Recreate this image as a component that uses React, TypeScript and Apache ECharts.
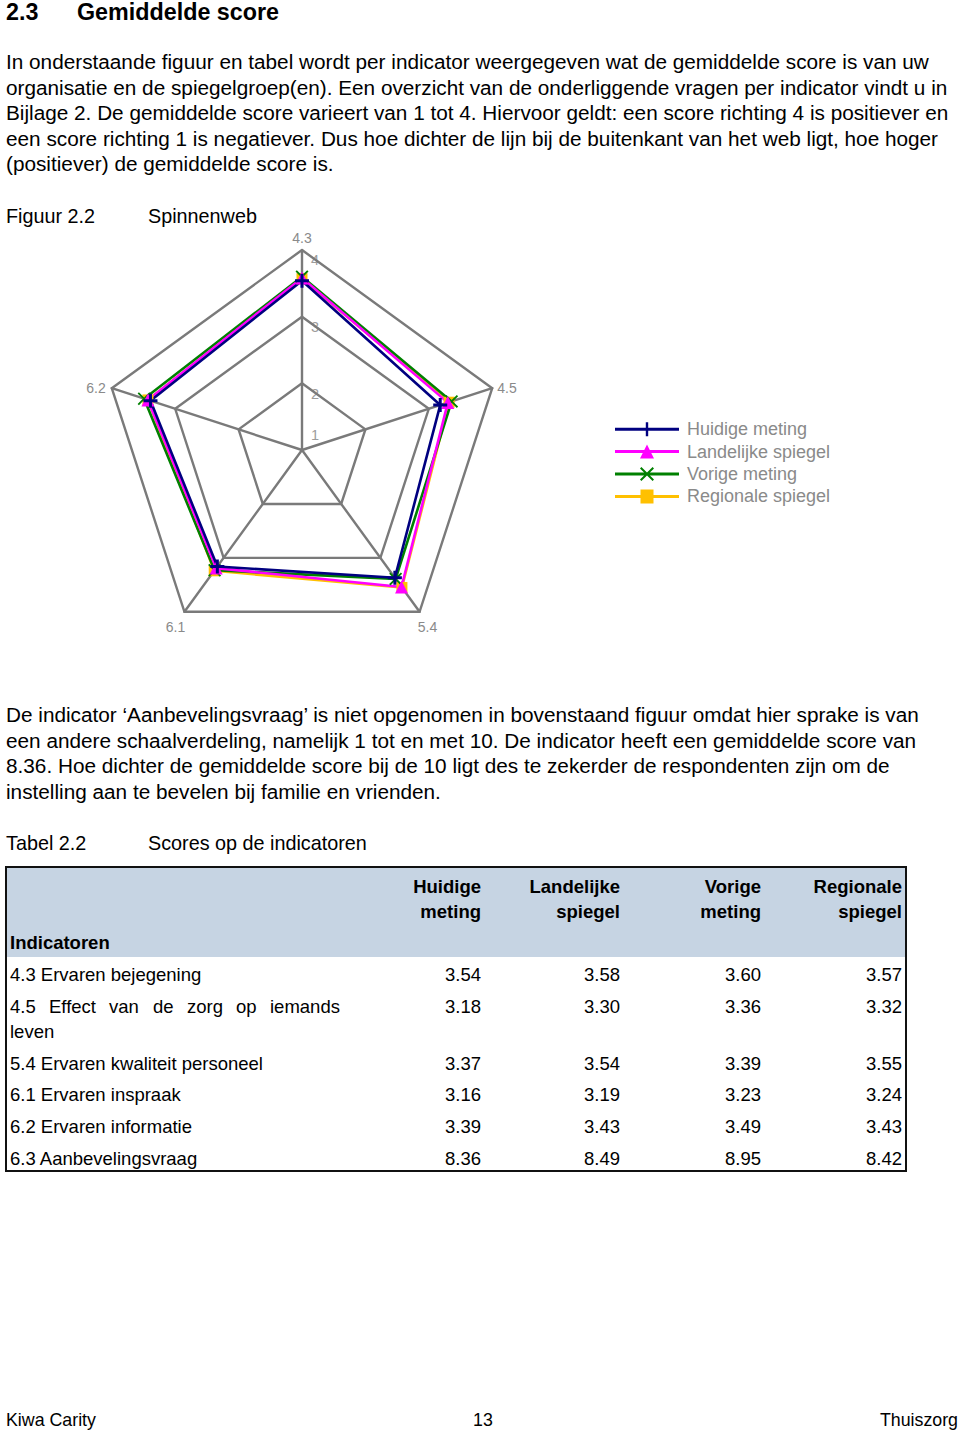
import React, { useEffect, useRef } from "react";
import * as echarts from "echarts";

// ---------- data ----------
const indicatorCodes = ["4.3", "4.5", "5.4", "6.1", "6.2"];
const rowLabels = [
  "4.3 Ervaren bejegening",
  "4.5 Effect van de zorg op iemands leven",
  "5.4 Ervaren kwaliteit personeel",
  "6.1 Ervaren inspraak",
  "6.2 Ervaren informatie",
  "6.3 Aanbevelingsvraag",
];
const huidigeMeting = [3.54, 3.18, 3.37, 3.16, 3.39, 8.36];
const landelijkeSpiegel = [3.58, 3.3, 3.54, 3.19, 3.43, 8.49];
const vorigeMeting = [3.6, 3.36, 3.39, 3.23, 3.49, 8.95];
const regionaleSpiegel = [3.57, 3.32, 3.55, 3.24, 3.43, 8.42];
const seriesNames = ["Huidige meting", "Landelijke spiegel", "Vorige meting", "Regionale spiegel"];
const columnHeaders = [
  ["Huidige", "meting"],
  ["Landelijke", "spiegel"],
  ["Vorige", "meting"],
  ["Regionale", "spiegel"],
];
const axisTicks = [1, 2, 3, 4];

const paragraph1 = [
  "In onderstaande figuur en tabel wordt per indicator weergegeven wat de gemiddelde score is van uw",
  "organisatie en de spiegelgroep(en). Een overzicht van de onderliggende vragen per indicator vindt u in",
  "Bijlage 2. De gemiddelde score varieert van 1 tot 4. Hiervoor geldt: een score richting 4 is positiever en",
  "een score richting 1 is negatiever. Dus hoe dichter de lijn bij de buitenkant van het web ligt, hoe hoger",
  "(positiever) de gemiddelde score is.",
];
const paragraph2 = [
  "De indicator \u2018Aanbevelingsvraag\u2019 is niet opgenomen in bovenstaand figuur omdat hier sprake is van",
  "een andere schaalverdeling, namelijk 1 tot en met 10. De indicator heeft een gemiddelde score van",
  "8.36. Hoe dichter de gemiddelde score bij de 10 ligt des te zekerder de respondenten zijn om de",
  "instelling aan te bevelen bij familie en vrienden.",
];

// ---------- layout / style ----------
const FONT = "'Liberation Sans', Arial, sans-serif";
const CX = 302;
const CY = 450;
const R = 200;
const AXIS_MIN = 1;
const AXIS_MAX = 4;
const GRID = "#7a7a7a";
const colors = ["#000080", "#FF00FF", "#008000", "#FFC000"];

// angles (deg, math) of each indicator in the web
const indicatorAngles = [90, 18, -54, -126, 162];
// radar indicators run counter-clockwise from the top in ECharts
const radarOrder = [0, 4, 3, 2, 1];

const PLUS = "path://M5.5,0H8.5V5.5H14V8.5H8.5V14H5.5V8.5H0V5.5H5.5Z";
const CROSS =
  "path://M0,1.4L1.4,0L7,5.6L12.6,0L14,1.4L8.4,7L14,12.6L12.6,14L7,8.4L1.4,14L0,12.6L5.6,7Z";

const LINE = "M0,5.5H64V8.5H0Z";
const legendIcons = [
  "path://" + LINE + "M30.8,0H33.2V14H30.8Z",
  "path://" + LINE + "M25,14L32,0L39,14Z",
  "path://" +
    LINE +
    "M25,1.4L26.4,0L32,5.6L37.6,0L39,1.4L33.4,7L39,12.6L37.6,14L32,8.4L26.4,14L25,12.6L30.6,7Z",
  "path://" + LINE + "M25.5,0H38.5V14H25.5Z",
];

function text(
  x: number,
  y: number,
  t: string,
  size: number,
  opts: { align?: string; weight?: string; color?: string; lineHeight?: number } = {}
) {
  const align = opts.align || "left";
  const style: any = {
    text: t,
    fill: opts.color || "#000",
    fontSize: size,
    fontFamily: FONT,
    fontWeight: opts.weight || "normal",
    align,
    textAlign: align,
    verticalAlign: "middle",
    textVerticalAlign: "middle",
  };
  if (opts.lineHeight) style.lineHeight = opts.lineHeight;
  return { type: "text", x, y, silent: true, style };
}

function buildGraphic() {
  const els: any[] = [];
  // heading
  els.push(text(6, 12, "2.3", 23.3, { weight: "bold", lineHeight: 23 }));
  els.push(text(77, 12, "Gemiddelde score", 23.3, { weight: "bold", lineHeight: 23 }));
  // paragraph 1
  const PS = 20.75;
  const p1y = [61, 87, 112, 138, 163];
  paragraph1.forEach((l, i) => els.push(text(6, p1y[i], l, PS)));
  // figure caption
  els.push(text(6, 216, "Figuur 2.2", 19.8));
  els.push(text(148, 216, "Spinnenweb", 19.8));

  // indicator names around the web
  const nameOffsets = [
    [0, -12, "center"],
    [5, 0, "left"],
    [8, 15, "center"],
    [-9, 15, "center"],
    [-6, 0, "right"],
  ];
  indicatorCodes.forEach((code, i) => {
    const a = (indicatorAngles[i] * Math.PI) / 180;
    const vx = CX + R * Math.cos(a);
    const vy = CY - R * Math.sin(a);
    const [dx, dy, al] = nameOffsets[i] as [number, number, string];
    els.push(text(vx + dx, vy + dy, code, 14, { align: al, color: "#8a8a8a" }));
  });
  // tick labels on the top axis
  axisTicks.forEach((v) => {
    const ry = CY - ((v - AXIS_MIN) / (AXIS_MAX - AXIS_MIN)) * R;
    const dy = v === AXIS_MIN ? -15 : v === 2 ? 11 : 10;
    els.push(text(315, ry + dy, String(v), 14.5, { align: "center", color: "#9c9c9c" }));
  });

  // paragraph 2
  const p2y = [714, 740, 765, 791];
  paragraph2.forEach((l, i) => els.push(text(6, p2y[i], l, PS)));
  els.push(text(6, 843, "Tabel 2.2", 19.8));
  els.push(text(148, 843, "Scores op de indicatoren", 19.8));

  // table
  els.push({
    type: "rect",
    shape: { x: 7, y: 868, width: 898, height: 89 },
    style: { fill: "#C6D4E3" },
    silent: true,
  });
  els.push({
    type: "rect",
    shape: { x: 6, y: 867, width: 900, height: 304 },
    style: { fill: "none", stroke: "#111", lineWidth: 2 },
    silent: true,
  });
  const colRight = [481, 620, 761, 902];
  const TS = 18.5;
  columnHeaders.forEach((h, c) => {
    els.push(text(colRight[c], 886, h[0], TS, { align: "right", weight: "bold" }));
    els.push(text(colRight[c], 911, h[1], TS, { align: "right", weight: "bold" }));
  });
  els.push(text(10, 942, "Indicatoren", TS, { weight: "bold" }));

  const rowY = [974, 1006, 1063, 1094, 1126, 1158];
  const cols = [huidigeMeting, landelijkeSpiegel, vorigeMeting, regionaleSpiegel];
  rowLabels.forEach((label, r) => {
    if (r === 1) {
      // justified line that wraps
      const words = label.split(" ");
      const wx = [10, 49, 109, 153, 187, 236, 270];
      words.slice(0, 7).forEach((w, k) => els.push(text(wx[k], rowY[r], w, TS)));
      els.push(text(10, 1031, words.slice(7).join(" "), TS));
    } else {
      els.push(text(10, rowY[r], label, TS));
    }
    cols.forEach((arr, c) => {
      els.push(text(colRight[c], rowY[r], arr[r].toFixed(2), TS, { align: "right" }));
    });
  });

  // footer
  els.push(text(6, 1420, "Kiwa Carity", 17.8));
  els.push(text(483, 1420, "13", 17.8, { align: "center" }));
  els.push(text(958, 1420, "Thuiszorg", 17.8, { align: "right" }));
  return els;
}

function buildOption() {
  const datasets = [huidigeMeting, landelijkeSpiegel, vorigeMeting, regionaleSpiegel];
  const symbols = [PLUS, "triangle", CROSS, "rect"];
  const symbolSizes = [14, 13, 13, 11];
  // draw order: Regionale first, Huidige last (on top)
  const drawOrder = [3, 2, 1, 0];
  const data = drawOrder.map((s) => ({
    name: seriesNames[s],
    value: radarOrder.map((i) => datasets[s][i]),
    symbol: symbols[s],
    symbolSize: symbolSizes[s],
    lineStyle: { color: colors[s], width: 2.6 },
    itemStyle: { color: colors[s], borderWidth: 0 },
  }));

  return {
    animation: false,
    backgroundColor: "#fff",
    legend: {
      orient: "vertical",
      left: 615,
      top: 418,
      padding: 0,
      itemWidth: 64,
      itemHeight: 14,
      itemGap: 0,
      selectedMode: false,
      itemStyle: { borderWidth: 0 },
      textStyle: {
        color: "#8a8a8a",
        fontSize: 18,
        fontFamily: FONT,
        lineHeight: 22.4,
        padding: [0, 0, 0, 3],
      },
      data: seriesNames.map((n, i) => ({ name: n, icon: legendIcons[i] })),
    },
    radar: {
      center: [CX, CY],
      radius: R,
      startAngle: 90,
      splitNumber: 3,
      shape: "polygon",
      indicator: radarOrder.map((i) => ({ name: indicatorCodes[i], min: AXIS_MIN, max: AXIS_MAX })),
      axisName: { show: false },
      axisLine: { lineStyle: { color: GRID, width: 2.4 } },
      splitLine: { lineStyle: { color: GRID, width: 2.4 } },
      splitArea: { show: false },
      axisTick: { show: false },
      axisLabel: { show: false },
    },
    series: [
      {
        type: "radar",
        data,
      },
    ],
    graphic: { elements: buildGraphic() },
  };
}

export default function App() {
  const ref = useRef<HTMLDivElement>(null);
  useEffect(() => {
    if (!ref.current) return;
    const chart = echarts.init(ref.current, null, { renderer: "svg" });
    chart.setOption(buildOption() as any);
    return () => chart.dispose();
  }, []);
  return (
    <div
      ref={ref}
      style={{ position: "absolute", left: 0, top: 0, width: 960, height: 1434, background: "#fff" }}
    />
  );
}
